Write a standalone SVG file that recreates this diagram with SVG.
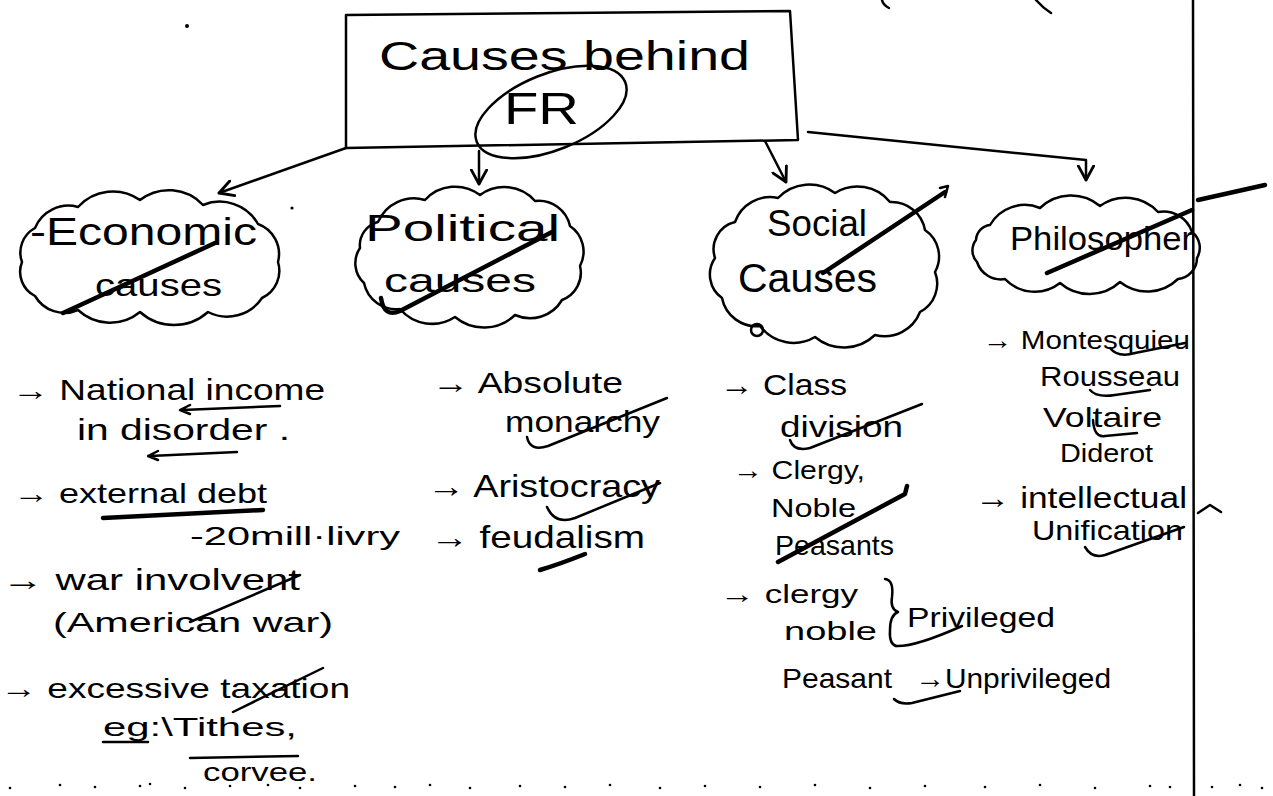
<svg xmlns="http://www.w3.org/2000/svg" width="1273" height="796" viewBox="0 0 1273 796">
<defs>
<style>
.ln{stroke:#000;fill:none;stroke-width:2.5;stroke-linecap:round;stroke-linejoin:round}
.tk{stroke:#000;fill:none;stroke-width:4.5;stroke-linecap:round;stroke-linejoin:round}
.t{font-family:"Liberation Sans","DejaVu Sans",sans-serif;fill:#000}
.dot{fill:#000}
</style>
<marker id="arr" viewBox="0 0 14 14" refX="12" refY="7" markerWidth="18" markerHeight="18" markerUnits="userSpaceOnUse" orient="auto">
<path d="M1,1 L12,7 L1,13" fill="none" stroke="#000" stroke-width="2.2" stroke-linecap="round" stroke-linejoin="round"/>
</marker>
</defs>
<rect width="1273" height="796" fill="#fff"/>

<g id="page">
<line class="ln" x1="1193" y1="0" x2="1194" y2="796" stroke-width="3"/>
<path class="ln" d="M882,0 Q883,5 889,8"/>
<path class="ln" d="M1036,0 Q1043,8 1051,13"/>
<circle class="dot" cx="187" cy="26" r="2"/>
<circle class="dot" cx="292" cy="208" r="1.6"/>
<g class="dot">
<circle cx="10" cy="788" r="1.3"/><circle cx="60" cy="785" r="1.3"/><circle cx="95" cy="787" r="1.3"/><circle cx="140" cy="786" r="1.3"/><circle cx="150" cy="784" r="1.3"/><circle cx="185" cy="788" r="1.3"/><circle cx="230" cy="786" r="1.3"/><circle cx="268" cy="785" r="1.3"/><circle cx="300" cy="788" r="1.3"/><circle cx="355" cy="786" r="1.3"/><circle cx="395" cy="787" r="1.3"/><circle cx="430" cy="785" r="1.3"/><circle cx="470" cy="788" r="1.3"/><circle cx="520" cy="786" r="1.3"/><circle cx="565" cy="787" r="1.3"/><circle cx="610" cy="785" r="1.3"/><circle cx="660" cy="788" r="1.3"/><circle cx="705" cy="786" r="1.3"/><circle cx="760" cy="787" r="1.3"/><circle cx="815" cy="785" r="1.3"/><circle cx="870" cy="788" r="1.3"/><circle cx="925" cy="786" r="1.3"/><circle cx="985" cy="787" r="1.3"/><circle cx="1040" cy="785" r="1.3"/><circle cx="1095" cy="788" r="1.3"/><circle cx="1150" cy="786" r="1.3"/><circle cx="1170" cy="787" r="1.3"/><circle cx="1212" cy="787" r="1.3"/><circle cx="1240" cy="785" r="1.3"/><circle cx="1262" cy="788" r="1.3"/>
</g>
</g>

<g id="title">
<path class="ln" d="M346,15 L790,11 L798,140 L346,148 Z"/>
<text class="t" x="379" y="70" font-size="40" textLength="371" lengthAdjust="spacingAndGlyphs">Causes behind</text>
<text class="t" x="504" y="124" font-size="44" textLength="75" lengthAdjust="spacingAndGlyphs">FR</text>
<ellipse class="ln" cx="551" cy="112" rx="80" ry="38" transform="rotate(-22 551 112)"/>
</g>

<g id="connectors">
<path class="ln" d="M346,148 L219,193" marker-end="url(#arr)"/>
<path class="ln" d="M479,151 L479,184" marker-end="url(#arr)"/>
<path class="ln" d="M765,141 L786,182" marker-end="url(#arr)"/>
<path class="ln" d="M808,132 L1086,160 L1086,180" marker-end="url(#arr)"/>
</g>

<g id="economic">
<path class="ln" d="M35,228 A36,36 0 0 1 78,207 A47,47 0 0 1 140,200 A47,47 0 0 1 203,205 A44,44 0 0 1 258,224 A32,32 0 0 1 278,262 A30,30 0 0 1 262,298 A42,42 0 0 1 208,312 A51,51 0 0 1 140,312 A47,47 0 0 1 78,310 A34,34 0 0 1 35,296 A27,27 0 0 1 22,262 A28,28 0 0 1 35,228 Z"/>
<text class="t" x="30" y="245" font-size="38" textLength="227" lengthAdjust="spacingAndGlyphs">-Economic</text>
<text class="t" x="95" y="296" font-size="32" textLength="127" lengthAdjust="spacingAndGlyphs">causes</text>
<path class="tk" d="M63,313 L215,243"/>
</g>
<g id="economic-list">
<text class="t" x="12" y="400" font-size="29" textLength="313" lengthAdjust="spacingAndGlyphs">→ National income</text>
<path class="ln" d="M280,406 L182,410 M190,405 L180,410 L190,414" stroke-width="3"/>
<text class="t" x="77" y="440" font-size="29" textLength="213" lengthAdjust="spacingAndGlyphs">in disorder .</text>
<path class="ln" d="M237,452 L150,456 M158,451 L148,456 L158,460" stroke-width="3"/>
<text class="t" x="13" y="503" font-size="28" textLength="254" lengthAdjust="spacingAndGlyphs">→ external debt</text>
<path class="tk" d="M103,518 L263,510"/>
<text class="t" x="190" y="545" font-size="26" textLength="210" lengthAdjust="spacingAndGlyphs">-20mill·livry</text>
<text class="t" x="2" y="590" font-size="30" textLength="298" lengthAdjust="spacingAndGlyphs">→ war involvent</text>
<text class="t" x="53" y="632" font-size="28" textLength="280" lengthAdjust="spacingAndGlyphs">(American war)</text>
<path class="ln" d="M190,622 L300,575"/>
<text class="t" x="0" y="698" font-size="28" textLength="350" lengthAdjust="spacingAndGlyphs">→ excessive taxation</text>
<path class="ln" d="M233,712 L323,668"/>
<text class="t" x="103" y="736" font-size="25" textLength="194" lengthAdjust="spacingAndGlyphs">eg:\Tithes,</text>
<path class="ln" d="M103,742 L148,742"/>
<path class="ln" d="M190,758 L298,756"/>
<text class="t" x="203" y="781" font-size="25" textLength="114" lengthAdjust="spacingAndGlyphs">corvee.</text>
</g>

<g id="political">
<path class="ln" d="M378,222 A39,39 0 0 1 425,200 A41,41 0 0 1 480,195 A41,41 0 0 1 535,201 A32,32 0 0 1 570,226 A31,31 0 0 1 580,266 A29,29 0 0 1 562,300 A37,37 0 0 1 515,315 A45,45 0 0 1 455,317 A42,42 0 0 1 400,309 A33,33 0 0 1 364,283 A27,27 0 0 1 360,248 A24,24 0 0 1 378,222 Z"/>
<text class="t" x="365" y="241" font-size="36" textLength="195" lengthAdjust="spacingAndGlyphs">Political</text>
<text class="t" x="384" y="292" font-size="34" textLength="152" lengthAdjust="spacingAndGlyphs">causes</text>
<path class="tk" d="M381,298 Q384,318 400,311 L552,232"/>
</g>
<g id="political-list">
<text class="t" x="432" y="393" font-size="30" textLength="191" lengthAdjust="spacingAndGlyphs">→ Absolute</text>
<text class="t" x="505" y="432" font-size="30" textLength="155" lengthAdjust="spacingAndGlyphs">monarchy</text>
<path class="ln" d="M527,437 Q530,452 548,446 L667,398" stroke-width="3"/>
<text class="t" x="427" y="497" font-size="32" textLength="233" lengthAdjust="spacingAndGlyphs">→ Aristocracy</text>
<path class="ln" d="M547,507 Q555,525 575,518 L660,483" stroke-width="3"/>
<text class="t" x="430" y="548" font-size="32" textLength="215" lengthAdjust="spacingAndGlyphs">→ feudalism</text>
<path class="tk" d="M540,570 Q560,564 585,554"/>
</g>

<g id="social">
<path class="ln" d="M735,222 A37,37 0 0 1 778,198 A43,43 0 0 1 835,193 A42,42 0 0 1 890,202 A34,34 0 0 1 925,230 A32,32 0 0 1 935,272 A32,32 0 0 1 920,312 A38,38 0 0 1 875,335 A45,45 0 0 1 815,337 A42,42 0 0 1 760,326 A35,35 0 0 1 722,298 A29,29 0 0 1 715,258 A28,28 0 0 1 735,222 Z"/>
<circle class="ln" cx="757" cy="330" r="6"/>
<text class="t" x="767" y="236" font-size="36" textLength="100" lengthAdjust="spacingAndGlyphs">Social</text>
<text class="t" x="738" y="292" font-size="40" textLength="139" lengthAdjust="spacingAndGlyphs">Causes</text>
<path class="tk" d="M823,273 L945,192"/>
<path class="ln" d="M940,188 L948,186 L945,197"/>
</g>
<g id="social-list">
<text class="t" x="720" y="395" font-size="30" textLength="127" lengthAdjust="spacingAndGlyphs">→ Class</text>
<text class="t" x="780" y="437" font-size="30" textLength="123" lengthAdjust="spacingAndGlyphs">division</text>
<path class="ln" d="M790,440 Q794,452 810,448 L922,404" stroke-width="3"/>
<text class="t" x="733" y="479" font-size="26" textLength="132" lengthAdjust="spacingAndGlyphs">→ Clergy,</text>
<text class="t" x="771" y="517" font-size="26" textLength="85" lengthAdjust="spacingAndGlyphs">Noble</text>
<text class="t" x="775" y="555" font-size="28" textLength="119" lengthAdjust="spacingAndGlyphs">Peasants</text>
<path class="tk" d="M778,562 L905,494 L907,486"/>
<text class="t" x="720" y="603" font-size="26" textLength="138" lengthAdjust="spacingAndGlyphs">→ clergy</text>
<text class="t" x="784" y="640" font-size="26" textLength="93" lengthAdjust="spacingAndGlyphs">noble</text>
<path class="ln" d="M885,579 Q894,580 892,597 Q890,609 898,612 Q890,615 890,630 Q889,644 896,646"/>
<text class="t" x="907" y="627" font-size="28" textLength="148" lengthAdjust="spacingAndGlyphs">Privileged</text>
<path class="ln" d="M896,646 Q915,647 962,626"/>
<text class="t" x="782" y="688" font-size="28" textLength="110" lengthAdjust="spacingAndGlyphs">Peasant</text>
<text class="t" x="915" y="688" font-size="28" textLength="196" lengthAdjust="spacingAndGlyphs">→Unprivileged</text>
<path class="ln" d="M894,699 Q900,705 912,703 L960,691"/>
</g>

<g id="philosopher">
<path class="ln" d="M990,225 A40,40 0 0 1 1040,208 A45,45 0 0 1 1100,206 A44,44 0 0 1 1158,212 A30,30 0 0 1 1192,232 A20,20 0 0 1 1197,258 A21,21 0 0 1 1178,279 A44,44 0 0 1 1120,282 A45,45 0 0 1 1060,283 A41,41 0 0 1 1005,279 A25,25 0 0 1 977,262 A17,17 0 0 1 976,240 A16,16 0 0 1 990,225 Z"/>
<text class="t" x="1010" y="250" font-size="34" textLength="183" lengthAdjust="spacingAndGlyphs">Philosopher</text>
<path class="tk" d="M1047,273 L1192,210"/>
<path class="tk" d="M1198,200 L1265,185"/>
</g>
<g id="philosopher-list">
<text class="t" x="983" y="349" font-size="26" textLength="207" lengthAdjust="spacingAndGlyphs">→ Montesquieu</text>
<path class="ln" d="M1110,348 Q1118,358 1135,353 L1185,343" stroke-width="3"/>
<text class="t" x="1040" y="386" font-size="28" textLength="140" lengthAdjust="spacingAndGlyphs">Rousseau</text>
<path class="ln" d="M1090,390 Q1097,398 1115,395 L1150,390" stroke-width="3"/>
<text class="t" x="1043" y="427" font-size="28" textLength="119" lengthAdjust="spacingAndGlyphs">Voltaire</text>
<path class="ln" d="M1093,420 Q1094,438 1105,436 L1137,433" stroke-width="3"/>
<text class="t" x="1060" y="462" font-size="26" textLength="93" lengthAdjust="spacingAndGlyphs">Diderot</text>
<text class="t" x="975" y="508" font-size="30" textLength="212" lengthAdjust="spacingAndGlyphs">→ intellectual</text>
<text class="t" x="1032" y="540" font-size="28" textLength="151" lengthAdjust="spacingAndGlyphs">Unification</text>
<path class="ln" d="M1085,547 Q1092,559 1105,555 L1184,527" stroke-width="3"/>
<path class="ln" d="M1198,513 L1210,505 L1221,512"/>
</g>
</svg>
